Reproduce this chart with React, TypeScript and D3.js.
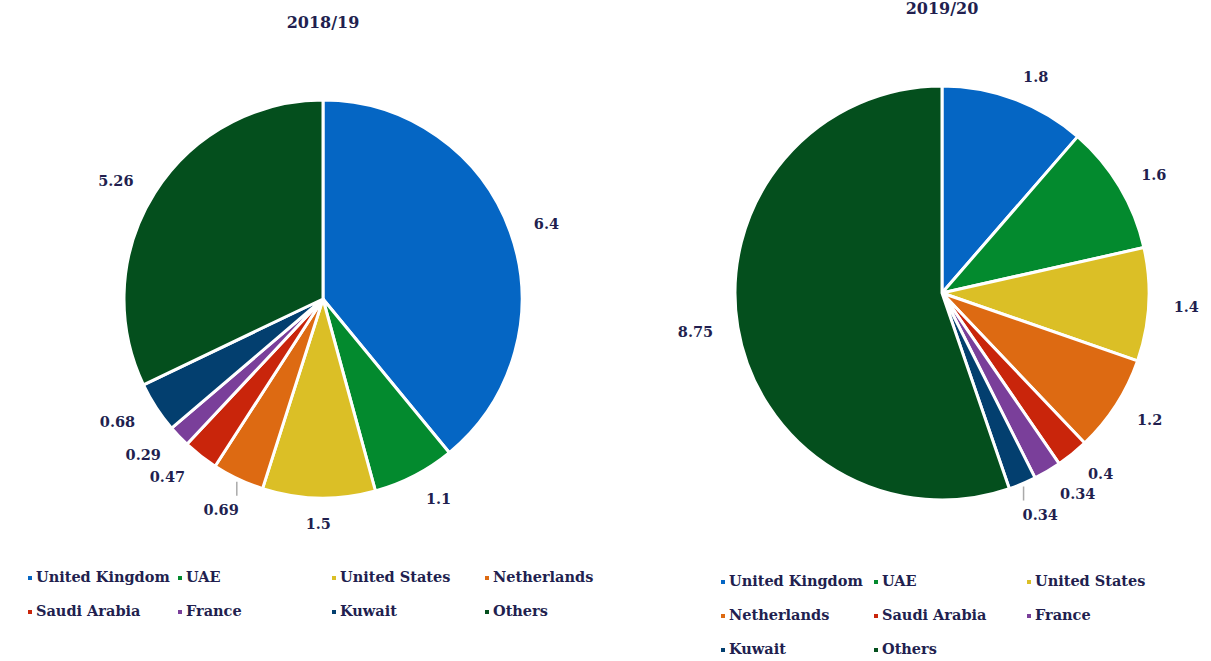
import React from "react";
import * as d3 from "d3";

const categories = ["United Kingdom", "UAE", "United States", "Netherlands", "Saudi Arabia", "France", "Kuwait", "Others"];
const values2018 = [6.4, 1.1, 1.5, 0.69, 0.47, 0.29, 0.68, 5.26];
const values2019 = [1.8, 1.6, 1.4, 1.2, 0.4, 0.34, 0.34, 8.75];
const labels2018 = ["6.4", "1.1", "1.5", "0.69", "0.47", "0.29", "0.68", "5.26"];
const labels2019 = ["1.8", "1.6", "1.4", "1.2", "0.4", "0.34", "0.34", "8.75"];
const colors = ["#0566c4", "#038a2e", "#dbbf26", "#dd6a12", "#c9250b", "#7a3f9a", "#033f6f", "#044f1d"];
const titles = ["2018/19", "2019/20"];
const leaders2018 = ["Netherlands"];
const leaders2019 = ["Kuwait"];

const TEXT = "#221f4f";
const FONT = "'DejaVu Serif', Georgia, serif";

type PieProps = {
  cx: number; cy: number; r: number; values: number[]; labels: string[];
  title: string; titleY: number; leaders: string[];
  legendX: number[]; legendY: number[]; cols: number;
};

function Pie({ cx, cy, r, values, labels, title, titleY, leaders, legendX, legendY, cols }: PieProps) {
  const pie = d3.pie<number>().sort(null).value((d) => d)(values);
  const arc = d3.arc<d3.PieArcDatum<number>>().innerRadius(0).outerRadius(r);
  const lr = r + 25;
  return (
    <g>
      <text x={cx} y={titleY} textAnchor="middle" fontFamily={FONT} fontWeight="bold" fontSize={16} fill={TEXT}>{title}</text>
      <g transform={`translate(${cx},${cy})`}>
        {pie.map((p, i) => (
          <path key={i} d={arc(p) || ""} fill={colors[i]} stroke="#fff" strokeWidth={3} strokeLinejoin="round" />
        ))}
        {pie.map((p, i) => {
          const a = (p.startAngle + p.endAngle) / 2;
          const s = Math.sin(a);
          if (leaders.includes(categories[i])) {
            const x0 = (r + 3) * s;
            const y0 = -(r + 3) * Math.cos(a);
            return (
              <g key={i}>
                <line x1={x0} y1={y0} x2={x0} y2={y0 + 14} stroke="#aaa" strokeWidth={1.5} />
                <text x={x0 + (a > Math.PI ? 2 : -1)} y={y0 + 29} textAnchor={a > Math.PI ? "end" : "start"} dominantBaseline="middle"
                  fontFamily={FONT} fontWeight="bold" fontSize={14.5} fill={TEXT}>{labels[i]}</text>
              </g>
            );
          }
          const anchor = s > 0.2 ? "start" : s < -0.2 ? "end" : "middle";
          return (
            <text key={i} x={lr * s} y={-lr * Math.cos(a) + 2} textAnchor={anchor} dominantBaseline="middle"
              fontFamily={FONT} fontWeight="bold" fontSize={14.5} fill={TEXT}>{labels[i]}</text>
          );
        })}
      </g>
      {categories.map((c, i) => {
        const x = legendX[i % cols];
        const y = legendY[Math.floor(i / cols)];
        return (
          <g key={c}>
            <rect x={x - 2} y={y - 2} width={4} height={4} fill={colors[i]} />
            <text x={x + 6} y={y} dominantBaseline="middle" fontFamily={FONT} fontWeight="bold" fontSize={14.5} fill={TEXT}>{c}</text>
          </g>
        );
      })}
    </g>
  );
}

export default function App() {
  return (
    <svg width={1211} height={661} style={{ position: "absolute", left: 0, top: 0, background: "#fff" }}>
      <Pie cx={323} cy={299} r={199} values={values2018} labels={labels2018} title={titles[0]} titleY={28}
        leaders={leaders2018} legendX={[30, 180, 334, 487]} legendY={[578, 612]} cols={4} />
      <Pie cx={942} cy={293} r={207} values={values2019} labels={labels2019} title={titles[1]} titleY={14}
        leaders={leaders2019} legendX={[723, 876, 1029]} legendY={[582, 616, 650]} cols={3} />
    </svg>
  );
}
